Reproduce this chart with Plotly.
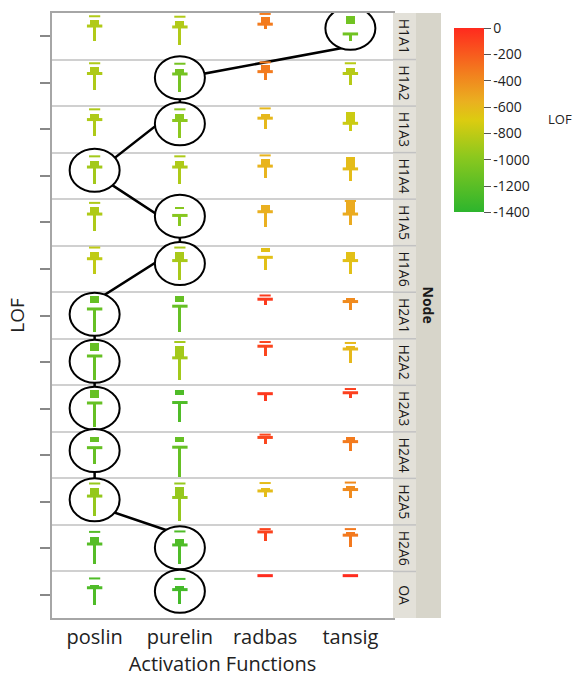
import plotly.graph_objects as go

# ---------------- data ----------------
acts = ["poslin", "purelin", "radbas", "tansig"]
nodes = ["H1A1", "H1A2", "H1A3", "H1A4", "H1A5", "H1A6",
         "H2A1", "H2A2", "H2A3", "H2A4", "H2A5", "H2A6", "OA"]
N = None

# mean LOF of each node x activation cell (colour)
lof = [
    [-850, -850, -330, -1100],
    [-860, -1080, -330, -830],
    [-860, -980, -600, -760],
    [-900, -860, -580, -620],
    [-860, -1000, -560, -540],
    [-800, -880, -640, -640],
    [-1150, -1150, -70, -400],
    [-1150, -900, -110, -600],
    [-1150, -1250, -60, -90],
    [-1150, -1150, -120, -330],
    [-950, -950, -620, -400],
    [-1220, -1250, -100, -320],
    [-1250, -1300, -10, -10],
]

# distribution summaries on each node's own scaled LOF axis (0 = bottom, 1 = top)
upper = [
    [0.93, 0.92, 0.98, N], [0.92, 0.91, 0.94, 0.92], [0.93, 0.93, 0.95, N],
    [0.92, 0.92, 0.94, N], [0.92, N, N, 0.96], [0.96, 0.96, N, N],
    [N, N, 0.93, N], [N, 0.93, 0.93, 0.91], [N, N, N, 0.92],
    [N, N, 0.94, N], [0.89, 0.89, 0.90, 0.91], [0.85, 0.86, 0.91, 0.91],
    [0.85, 0.84, N, N],
]
q3 = [
    [0.84, 0.83, 0.91, 0.94], [0.83, 0.79, 0.89, 0.82], [0.84, 0.83, 0.82, 0.88],
    [0.82, 0.82, 0.86, 0.90], [0.83, 0.84, 0.88, 0.94], [0.87, 0.87, 0.94, 0.87],
    [0.91, 0.91, N, 0.87], [0.91, 0.84, N, 0.84], [0.90, 0.90, N, N],
    [0.90, 0.90, N, 0.88], [0.79, 0.81, 0.79, 0.83], [0.74, 0.70, N, 0.85],
    [0.71, 0.69, N, N],
]
q1 = [
    [0.72, 0.70, 0.79, 0.76], [0.70, 0.70, 0.74, 0.70], [0.71, 0.69, 0.74, 0.63],
    [0.69, 0.69, 0.71, 0.65], [0.68, 0.79, 0.73, 0.68], [0.72, 0.68, 0.87, 0.68],
    [0.76, 0.80, N, 0.80], [0.74, 0.59, N, 0.78], [0.73, 0.79, N, N],
    [0.79, 0.79, N, 0.79], [0.62, 0.59, 0.73, 0.76], [0.59, 0.57, N, 0.78],
    [0.65, 0.61, N, N],
]
fence = [
    [0.72, 0.70, 0.76, 0.55], [0.70, 0.69, 0.74, 0.70], [0.71, 0.69, 0.74, 0.63],
    [0.69, 0.69, 0.71, 0.65], [0.68, 0.65, 0.73, 0.68], [0.72, 0.68, 0.75, 0.68],
    [0.64, 0.70, 0.85, 0.80], [0.63, 0.59, 0.84, 0.78], [0.62, 0.63, 0.82, 0.84],
    [0.66, 0.67, 0.88, 0.79], [0.62, 0.59, 0.73, 0.76], [0.59, 0.57, 0.85, 0.78],
    [0.65, 0.61, 0.91, 0.91],
]
lower = [
    [0.40, 0.32, 0.66, 0.40], [0.35, 0.31, 0.57, 0.46], [0.35, 0.31, 0.50, 0.46],
    [0.32, 0.32, 0.45, 0.39], [0.32, 0.43, 0.41, 0.45], [0.40, 0.27, 0.47, 0.40],
    [0.14, 0.14, 0.72, 0.61], [0.12, 0.12, 0.63, 0.48], [0.11, 0.22, 0.67, 0.73],
    [0.30, 0.04, 0.73, 0.58], [0.19, 0.08, 0.59, 0.57], [0.16, 0.16, 0.65, 0.53],
    [0.29, 0.31, N, N],
]

# best activation function per node (circled) and where the path crosses it
best = ["tansig", "purelin", "purelin", "poslin", "purelin", "purelin",
        "poslin", "poslin", "poslin", "poslin", "poslin", "purelin", "purelin"]
path_level = [0.28, 0.60, 0.98, 0.55, 0.35, 0.97, 0.81, 0.5, 0.5, 0.5, 0.41, 0.79, 0.6]

cbar_ticks = [0, -200, -400, -600, -800, -1000, -1200, -1400]

# ---------------- build ----------------
FONT = "Open Sans"
R = len(nodes)
W_PLOT = 341.0   # plot area width in px
H_PLOT = 609.0   # plot area height in px

def px_x(p):
    return (p - 52) / W_PLOT

def px_y(p):
    return (620 - p) / H_PLOT

box_x, box_b, box_h, box_c = [], [], [], []
stem_x, stem_b, stem_h, stem_c = [], [], [], []
up_x, up_y, up_c = [], [], []
fe_x, fe_y, fe_c = [], [], []
for i in range(R):
    base = R - 1 - i
    for j in range(len(acts)):
        c = lof[i][j]
        if q3[i][j] is not None:
            box_x.append(j); box_b.append(base + q1[i][j])
            box_h.append(q3[i][j] - q1[i][j]); box_c.append(c)
        if lower[i][j] is not None:
            stem_x.append(j); stem_b.append(base + lower[i][j])
            stem_h.append(fence[i][j] - lower[i][j]); stem_c.append(c)
        if upper[i][j] is not None:
            up_x.append(j); up_y.append(base + upper[i][j]); up_c.append(c)
        fe_x.append(j); fe_y.append(base + fence[i][j]); fe_c.append(c)

fig = go.Figure()
fig.add_trace(go.Bar(x=stem_x, y=stem_h, base=stem_b, width=0.036,
                     marker=dict(color=stem_c, coloraxis="coloraxis", line=dict(width=0)),
                     hoverinfo="skip", showlegend=False))
fig.add_trace(go.Bar(x=box_x, y=box_h, base=box_b, width=0.105,
                     marker=dict(color=box_c, coloraxis="coloraxis", line=dict(width=0)),
                     hoverinfo="skip", showlegend=False))
fig.add_trace(go.Scatter(x=up_x, y=up_y, mode="markers",
                         marker=dict(symbol="line-ew", size=8, color=up_c, coloraxis="coloraxis",
                                     line=dict(width=2, color=up_c, coloraxis="coloraxis")),
                         hoverinfo="skip", showlegend=False))
fig.add_trace(go.Scatter(x=fe_x, y=fe_y, mode="markers",
                         marker=dict(symbol="line-ew", size=11, color=fe_c, coloraxis="coloraxis",
                                     line=dict(width=3, color=fe_c, coloraxis="coloraxis")),
                         hoverinfo="skip", showlegend=False))

shapes = []
# facet strip background (whole strip, then the darker "Node" column)
shapes.append(dict(type="rect", xref="paper", yref="paper", x0=px_x(393), x1=px_x(441), y0=0, y1=1,
                   fillcolor="#e3e1d9", line=dict(width=0), layer="above"))
shapes.append(dict(type="rect", xref="paper", yref="paper", x0=px_x(416), x1=px_x(441), y0=0, y1=1,
                   fillcolor="#d7d5ca", line=dict(width=0), layer="above"))
for k in range(1, R):
    shapes.append(dict(type="line", xref="paper", yref="paper", x0=px_x(393), x1=px_x(416),
                       y0=k / R, y1=k / R, line=dict(color="#c2c2c2", width=1.5), layer="above"))

# connecting path through best cells
pts = []
for i in range(R):
    j = acts.index(best[i])
    pts.append((j, R - 1 - i + path_level[i]))
path = "M " + " L ".join(f"{x},{y}" for x, y in pts)
shapes.append(dict(type="path", xref="x", yref="y", path=path,
                   line=dict(color="black", width=2.5), layer="between"))
# circles around best cells
for i in range(R):
    j = acts.index(best[i])
    top = max(v for v in [upper[i][j], q3[i][j], fence[i][j]] if v is not None)
    bot = lower[i][j] if lower[i][j] is not None else fence[i][j]
    cy = R - 1 - i + (top + bot) / 2
    shapes.append(dict(type="circle", xref="x", yref="y", xsizemode="pixel", ysizemode="pixel",
                       xanchor=j, yanchor=cy, x0=-25, x1=25, y0=-21.5, y1=21.5,
                       fillcolor="white", line=dict(color="black", width=2), layer="between"))

annotations = []
for i, n in enumerate(nodes):
    annotations.append(dict(text=n, xref="paper", yref="paper", x=px_x(404.5), y=(R - i - 0.5) / R,
                            xanchor="center", yanchor="middle",
                            showarrow=False, textangle=90,
                            font=dict(family=FONT, size=14, color="#1a1a1a")))
annotations.append(dict(text="<b>Node</b>", xref="paper", yref="paper", x=px_x(428.5), y=px_y(305),
                        xanchor="center", yanchor="middle",
                        showarrow=False, textangle=90,
                        font=dict(family=FONT, size=14, color="#1a1a1a")))
annotations.append(dict(text="LOF", xref="paper", yref="paper", x=px_x(546), y=px_y(118),
                        xanchor="left", yanchor="middle", showarrow=False,
                        font=dict(family=FONT, size=13, color="#222")))

fig.update_layout(
    width=577, height=677,
    margin=dict(l=52, r=184, t=11, b=57),
    paper_bgcolor="white", plot_bgcolor="white",
    barmode="overlay", bargap=0,
    font=dict(family=FONT, color="#222"),
    shapes=shapes, annotations=annotations,
    coloraxis=dict(
        cmin=-1400, cmax=0,
        colorscale=[[0.0, "#2db52d"], [0.3, "#8cc81e"], [0.5, "#dccc10"],
                    [0.6, "#eab020"], [0.75, "#f2801e"], [1.0, "#ff2a1e"]],
        colorbar=dict(x=px_x(454), xanchor="left", xpad=0,
                      y=px_y(119), yanchor="middle", ypad=0,
                      len=184, lenmode="pixels", thickness=30, thicknessmode="pixels",
                      outlinewidth=0, ticks="outside", ticklen=7, tickcolor="#555",
                      tickvals=cbar_ticks, ticktext=[str(t) for t in cbar_ticks],
                      tickfont=dict(family=FONT, size=14, color="#222")),
    ),
    xaxis=dict(range=[-0.5, 3.5], tickvals=list(range(len(acts))), ticktext=acts,
               showgrid=False, zeroline=False, showline=True, mirror=True,
               linecolor="#a6a6a6", linewidth=2, ticks="",
               tickfont=dict(family=FONT, size=20, color="#222"),
               title=dict(text="Activation Functions", standoff=2,
                          font=dict(family=FONT, size=20, color="#222"))),
    yaxis=dict(range=[0, R], tickvals=[k + 0.5 for k in range(R)], showticklabels=False,
               ticks="outside", ticklen=10, tickwidth=1.5, tickcolor="#888",
               showgrid=False, zeroline=False, showline=True, mirror=True,
               linecolor="#a6a6a6", linewidth=2,
               minor=dict(tickvals=list(range(1, R)), showgrid=True, gridcolor="#d0d0d0",
                          gridwidth=2, ticks=""),
               title=dict(text="LOF", standoff=10,
                          font=dict(family=FONT, size=19, color="#222"))),
)

fig.write_html("out.html")
